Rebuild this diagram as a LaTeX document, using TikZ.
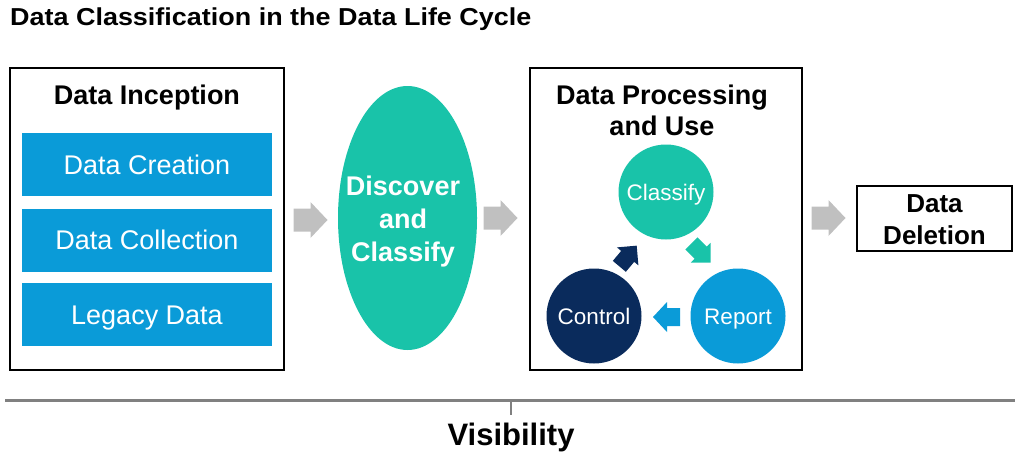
\documentclass[tikz,border=0pt]{standalone}
\usepackage{fontspec}
\setmainfont{Liberation Sans}
\newfontfamily\titlefont[FakeStretch=1.1]{Liberation Sans}
\usetikzlibrary{shapes.geometric}
\definecolor{boxblue}{HTML}{0A9BD8}
\definecolor{tealc}{HTML}{19C3A9}
\definecolor{navy}{HTML}{0A2B5C}
\definecolor{arrgray}{HTML}{C0C0C0}
\definecolor{linegray}{HTML}{808080}
% block arrow: name, centre x, centre y, angle, length, body width, head width, head length, colour
\newcommand\blkarrow[9]{%
  \begin{scope}[shift={(#2,#3)}, rotate=#4]
    \fill[#9] (-#5/2,-#6/2) -- (#5/2-#8,-#6/2) -- (#5/2-#8,-#7/2) -- (#5/2,0)
      -- (#5/2-#8,#7/2) -- (#5/2-#8,#6/2) -- (-#5/2,#6/2) -- cycle;
    \coordinate (#1) at (0,0);
  \end{scope}}
\tikzset{
  frame/.style={draw=black, line width=2pt, fill=white},
  bluebox/.style={fill=boxblue, text=white, minimum width=250pt, minimum height=63pt, inner sep=0pt, text height=19.4pt, text depth=0pt, font=\fontsize{27}{32}\selectfont},
  circ/.style={circle, minimum size=95pt, inner sep=0pt, text=white, text height=16.1pt, text depth=0pt, font=\fontsize{22.5}{27}\selectfont},
  hdr/.style={font=\bfseries\fontsize{27}{31}\selectfont, align=center, inner sep=0pt},
}
\begin{document}
\begin{tikzpicture}[x=1pt,y=-1pt]
\useasboundingbox (0,0) rectangle (1024,463);
% title
\node[anchor=west, font=\titlefont\bfseries\fontsize{24.5}{29}\selectfont, inner sep=0pt] (title) at (10,19) {Data Classification in the Data Life Cycle};
% box 1
\draw[frame] (10,68) rectangle (284,370);
\node[hdr, text height=19.4pt, text depth=0pt] (inc) at (147,95) {Data Inception};
\node[bluebox] (create) at (147,164.5) {Data Creation};
\node[bluebox] (collect) at (147,240) {Data Collection};
\node[bluebox] (legacy) at (147,314.5) {Legacy Data};
% arrow 1
\blkarrow{a1}{310.5}{220}{0}{34}{23}{36}{17}{arrgray}
% ellipse
\node[ellipse, fill=tealc, minimum width=139pt, minimum height=264pt, inner sep=0pt] (disc) at (407.5,218) {};
\node[text=white, align=center, inner sep=0pt, font=\bfseries\fontsize{27}{33}\selectfont] (disctext) at (403,222) {Discover\\and\\Classify};
% arrow 2
\blkarrow{a2}{500.5}{218}{0}{34}{23}{36}{17}{arrgray}
% box 2
\draw[frame] (530,68) rectangle (802,370);
\node[hdr] (proc) at (662,110.5) {Data Processing\\and Use};
\node[circ, fill=tealc] (cls) at (666,192) {Classify};
\node[circ, fill=boxblue] (rep) at (738,316) {Report};
\node[circ, fill=navy] (ctl) at (594,316) {Control};
\blkarrow{s1}{701}{253}{-45}{27}{17}{28}{14}{tealc}
\blkarrow{s2}{666.5}{317}{180}{27}{18}{30}{14}{boxblue}
\blkarrow{s3}{628}{256}{50}{27}{17}{28}{14}{navy}
% arrow 3
\blkarrow{a3}{828.5}{218}{0}{34}{23}{36}{17}{arrgray}
% deletion
\draw[black, line width=2pt] (857,186) rectangle (1012,251);
\node[inner sep=0pt, align=center, font=\bfseries\fontsize{26}{32}\selectfont] (del) at (934.5,220) {Data\\Deletion};
% visibility line
\coordinate (l1) at (5,400);
\coordinate (l2) at (1015,400);
\coordinate (t1) at (511,400);
\coordinate (t2) at (511,415);
\draw[linegray, line width=3pt] (l1) -- (l2);
\draw[linegray, line width=1.5pt] (t1) -- (t2);
\node[font=\bfseries\fontsize{31}{36}\selectfont, inner sep=0pt] (vis) at (511,437) {Visibility};
\end{tikzpicture}
\end{document}
